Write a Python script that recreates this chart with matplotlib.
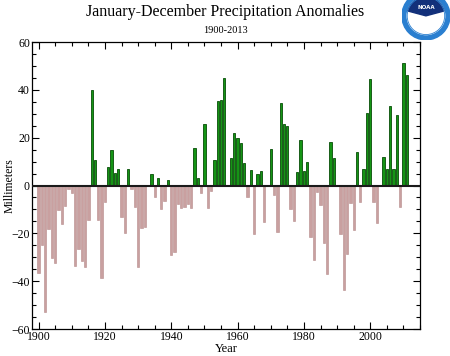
import numpy as np
import matplotlib
matplotlib.use("Agg")
import matplotlib.pyplot as plt
from matplotlib.patches import Circle, Wedge
from matplotlib.ticker import MultipleLocator

# Annual precipitation anomalies (mm)
years = list(range(1900, 2014))
anomalies = [
    -36.6, -25.0, -53.0, -18.0, -30.5, -32.3, -10.3, -16.0, -8.5, -1.3,   # 1900s
    -3.3, -33.5, -26.6, -31.4, -34.2, -14.3, 40.0, 10.6, -14.3, -38.7,    # 1910s
    -6.7, 7.6, 14.9, 5.4, 6.9, -13.0, -20.0, 6.8, -1.5, -8.8,             # 1920s
    -33.9, -17.8, -17.5, 0.0, 4.9, -4.6, 3.0, -9.8, -6.3, 2.1,            # 1930s
    -29.2, -28.0, -7.7, -9.5, -8.8, -7.7, -9.5, 15.6, 3.0, -3.2,          # 1940s
    25.6, -9.6, -2.5, 10.5, 35.2, 35.8, 44.8, 0.0, 11.7, 22.0,            # 1950s
    19.8, 17.7, 9.6, -5.0, 6.3, -20.4, 4.8, 5.9, -15.3, 0.0,              # 1960s
    15.2, -3.9, -19.5, 34.7, 25.6, 24.7, -10.0, -14.9, 5.7, 18.9,         # 1970s
    6.1, 9.9, -21.6, -31.0, -2.8, -8.1, -23.9, -37.0, 18.0, 11.4,         # 1980s
    0.0, -20.2, -43.6, -28.7, -7.4, -18.8, 13.9, -7.1, 6.8, 30.2,         # 1990s
    44.6, -6.7, -15.7, 0.0, 12.1, 6.8, 33.3, 7.0, 29.5, -8.8,             # 2000s
    51.1, 46.0, 0.0, 0.0,                                                 # 2010s
]

title = "January-December Precipitation Anomalies"
subtitle = "1900-2013"

plt.rcParams['font.family'] = ['Liberation Serif', 'DejaVu Serif']

fig = plt.figure(figsize=(4.5, 3.56), dpi=100)
ax = fig.add_axes([0.0711, 0.0758, 0.8622, 0.8062])

vals = np.array(anomalies)
pos = vals > 0
ax.bar(np.array(years)[pos], vals[pos], width=0.7, color="#159515",
       edgecolor="#064d06", linewidth=0.6, zorder=2)
ax.bar(np.array(years)[~pos], vals[~pos], width=0.7, color="#c9a0a0",
       edgecolor="#b58a8a", linewidth=0.4, zorder=2)
ax.axhline(0, color="#1a1a1a", linewidth=1.5, zorder=3)

ax.set_xlim(1898, 2015)
ax.set_ylim(-60, 60)
ax.xaxis.set_major_locator(MultipleLocator(20))
ax.xaxis.set_minor_locator(MultipleLocator(5))
ax.yaxis.set_major_locator(MultipleLocator(20))
ax.yaxis.set_minor_locator(MultipleLocator(5))
ax.tick_params(which="both", direction="in", top=True, right=True,
               labelsize=8.5, width=0.8, pad=1.5)
ax.tick_params(which="major", length=5)
ax.tick_params(which="minor", length=3)
for s in ax.spines.values():
    s.set_linewidth(0.9)

ax.set_xlabel("Year", fontsize=9, labelpad=0)
# y label placed by hand so it stays inside the narrow left margin
fig.text(10 / 450, 0.479, "Millimeters", rotation=90, ha="center",
         va="center", fontsize=8.5)

fig.text(0.5, 0.965, title, ha="center", va="center", fontsize=11.5)
fig.text(0.5, 0.915, subtitle, ha="center", va="center", fontsize=7.5)

# rough NOAA emblem in the top-right corner
lax = fig.add_axes([0.893, 0.888, 0.107, 0.135])
lax.set_xlim(-1, 1)
lax.set_ylim(-1, 1)
lax.set_aspect("equal")
lax.axis("off")
lax.add_patch(Circle((0, 0), 1.0, color="#2a7fd0"))
lax.add_patch(Circle((0, 0), 0.78, color="white"))
lax.add_patch(Wedge((0, 0), 0.78, 15, 165, color="#12307a"))
lax.add_patch(Circle((0, 0), 0.78, fill=False, ec="#2a7fd0", lw=0.6))
lax.text(0, 0.35, "NOAA", color="white", fontsize=4, ha="center",
         va="center", family="DejaVu Sans", weight="bold")

fig.savefig("out.png", dpi=100)
